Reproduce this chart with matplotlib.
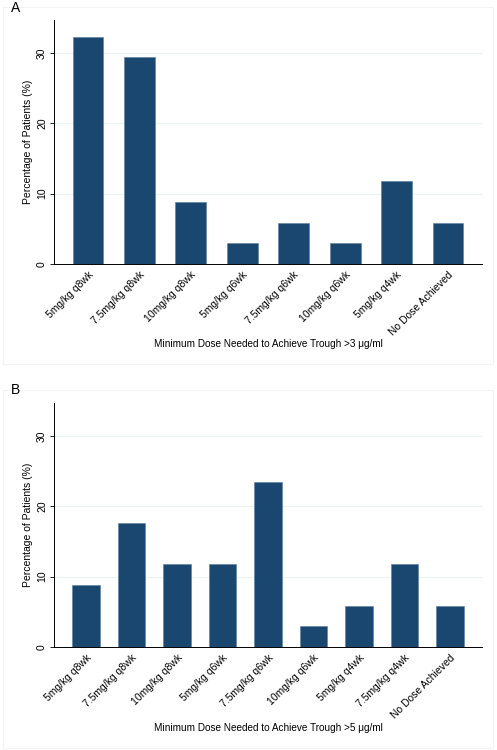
import matplotlib
matplotlib.use("Agg")
import matplotlib.pyplot as plt
from matplotlib.patches import Rectangle

plt.rcParams['font.family'] = ['Liberation Sans', 'DejaVu Sans']

cats_a = ["5mg/kg q8wk", "7.5mg/kg q8wk", "10mg/kg q8wk", "5mg/kg q6wk",
          "7.5mg/kg q6wk", "10mg/kg q6wk", "5mg/kg q4wk", "No Dose Achieved"]
vals_a = [32.35, 29.41, 8.82, 2.94, 5.88, 2.94, 11.76, 5.88]

cats_b = ["5mg/kg q8wk", "7.5mg/kg q8wk", "10mg/kg q8wk", "5mg/kg q6wk",
          "7.5mg/kg q6wk", "10mg/kg q6wk", "5mg/kg q4wk", "7.5mg/kg q4wk",
          "No Dose Achieved"]
vals_b = [8.82, 17.65, 11.76, 11.76, 23.53, 2.94, 5.88, 11.76, 5.88]

yticks = [0, 10, 20, 30]
xlabel_a = "Minimum Dose Needed to Achieve Trough >3 \u03bcg/ml"
xlabel_b = "Minimum Dose Needed to Achieve Trough >5 \u03bcg/ml"
ylabel = "Percentage of Patients (%)"

W, H = 497, 750
fig = plt.figure(figsize=(W / 100, H / 100), dpi=100)
fig.patch.set_facecolor("white")

bar_color = "#1a476f"
grid_color = "#eaf2f3"


def panel(rect, cats, vals, left_pad, right_pad):
    ax = fig.add_axes(rect)
    x = list(range(len(cats)))
    ax.bar(x, vals, width=0.6, color=bar_color, edgecolor="#5b7fa0", linewidth=0.4, zorder=3)
    ax.set_xlim(-left_pad, len(cats) - 1 + right_pad)
    ax.set_ylim(0, 34.7)
    ax.set_yticks(yticks)
    ax.set_yticklabels([str(t) for t in yticks], rotation=90, va="center", fontsize=7.5)
    ax.set_xticks(x)
    ax.set_xticklabels(cats, rotation=45, ha="right", va="top", rotation_mode="anchor",
                       fontsize=7.5)
    ax.tick_params(axis="x", length=0, pad=4)
    ax.tick_params(axis="y", length=3, width=0.6, pad=2)
    for t in yticks[1:]:
        ax.axhline(t, color=grid_color, linewidth=0.8, zorder=1)
    for s in ["top", "right"]:
        ax.spines[s].set_visible(False)
    ax.spines["left"].set_linewidth(0.7)
    ax.spines["bottom"].set_linewidth(0.7)
    ax.set_ylabel(ylabel, fontsize=7.5, labelpad=3)
    ax.set_facecolor("white")
    return ax


ax_a = panel([54 / W, 1 - 264 / H, (482 - 54) / W, (264 - 20) / H],
             cats_a, vals_a, 0.66, 0.66)
ax_b = panel([54 / W, 1 - 647 / H, (482 - 54) / W, (647 - 403) / H],
             cats_b, vals_b, 0.70, 0.70)

fig.text(268 / W, 1 - 344 / H, xlabel_a, ha="center", va="center", fontsize=7.2)
fig.text(268 / W, 1 - 728 / H, xlabel_b, ha="center", va="center", fontsize=7.2)

fig.text(11 / W, 1 - 8 / H, "A", ha="left", va="center", fontsize=10)
fig.text(11 / W, 1 - 390 / H, "B", ha="left", va="center", fontsize=10)

# faint panel borders
for (y0, y1) in [(7, 364), (390, 748)]:
    fig.add_artist(Rectangle((3 / W, 1 - y1 / H), (493 - 3) / W, (y1 - y0) / H,
                             transform=fig.transFigure, fill=False,
                             edgecolor="#f2f4f4", linewidth=0.8))

fig.savefig("out.png", dpi=100, facecolor="white")
